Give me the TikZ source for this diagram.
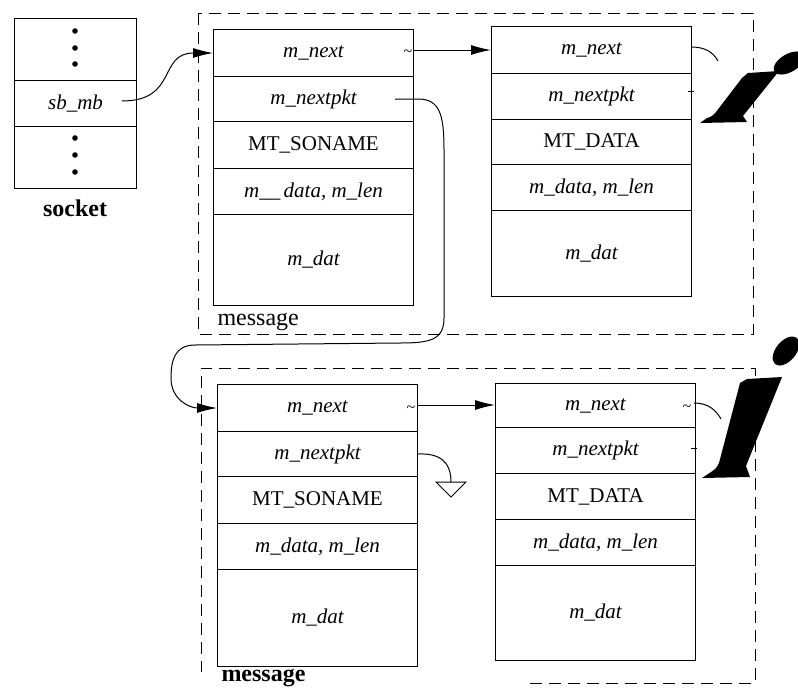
\documentclass[tikz,border=0pt]{standalone}
\usepackage{fontspec}
\setmainfont{Liberation Serif}
\usetikzlibrary{arrows.meta,calc}
\begin{document}
\begin{tikzpicture}[x=1pt,y=-1pt,
  line width=1pt,
  row/.style={draw, line width=1pt, anchor=north west, minimum width=200pt, inner sep=0pt, font=\fontsize{21}{23}\selectfont},
  srow/.style={draw, line width=1pt, anchor=north west, minimum width=122pt, inner sep=0pt, font=\fontsize{21}{23}\selectfont},
  it/.style={font=\fontsize{21}{23}\selectfont\itshape},
  dashbox/.style={dash pattern=on 12pt off 7pt, line width=1pt},
  link/.style={line width=1pt, -{Latex[length=20pt,width=10pt]}},
  wire/.style={line width=1pt},
  lbl/.style={inner sep=0pt, font=\fontsize{24}{26}\selectfont},
  blbl/.style={inner sep=0pt, font=\fontsize{24}{26}\selectfont\bfseries},
  tld/.style={inner sep=0pt, font=\fontsize{16}{16}\selectfont}
]
\useasboundingbox (0,0) rectangle (798,689);

% dashed message boxes
\draw[dashbox] (198,13) rectangle (753,334);
\draw[dashbox] (530,683) -- (755,683) -- (755,368) -- (201,368) -- (201,672);

% large slanted marks at right (top)
\fill (742,78) -- (748,73) -- (779,71) -- (743,116) -- (747,122) -- (700,123) -- (707,118)
  .. controls (712,117) and (714,114) .. (716,112) -- cycle;
\fill[rotate around={30:(789,63)}] (789,63) ellipse (17 and 9);
% large slanted marks at right (bottom)
\fill (740,383) -- (747,379) -- (782,377) -- (746,466) -- (750,477) -- (702,478) -- (711,472)
  .. controls (715,470) and (717,467) .. (719,463) -- cycle;
\fill[rotate around={50:(786,351)}] (786,351) ellipse (17 and 10);

% socket
\node[srow, minimum height=62pt] (S1) at (14,18) {};
\node[srow, minimum height=46pt, font=\fontsize{21}{23}\selectfont\itshape] (S2) at (14,80) {sb\_mb};
\node[srow, minimum height=62pt] (S3) at (14,126) {};
\foreach \yy in {31,48,64,138,155,172} \fill (75,\yy) circle (2.8pt);
\node[blbl] (sock) at (75,208) {socket};

% top-left message
\node[row, minimum height=47pt, it] (A1) at (213,29) {m\_next};
\node[row, minimum height=45pt, it] (A2) at (213,76) {m\_nextpkt};
\node[row, minimum height=47pt] (A3) at (213,121) {MT\_SONAME};
\node[row, minimum height=46pt, it] (A4) at (213,168) {m\_\_\,data, m\_len};
\node[row, minimum height=91pt, it] (A5) at (213,214) {m\_dat};

% top-right message
\node[row, minimum height=47pt, it] (B1) at (491,26) {m\_next};
\node[row, minimum height=46pt, it] (B2) at (491,73) {m\_nextpkt};
\node[row, minimum height=45pt] (B3) at (491,119) {MT\_DATA};
\node[row, minimum height=46pt, it] (B4) at (491,164) {m\_data, m\_len};
\node[row, minimum height=86pt, it] (B5) at (491,210) {m\_dat};

% bottom-left message
\node[row, minimum height=47pt, it] (C1) at (217,384) {m\_next};
\node[row, minimum height=45pt, it] (C2) at (217,431) {m\_nextpkt};
\node[row, minimum height=47pt] (C3) at (217,476) {MT\_SONAME};
\node[row, minimum height=46pt, it] (C4) at (217,523) {m\_data, m\_len};
\node[row, minimum height=97pt, it] (C5) at (217,569) {m\_dat};

% bottom-right message
\node[row, minimum height=44pt, it] (D1) at (495,383) {m\_next};
\node[row, minimum height=46pt, it] (D2) at (495,427) {m\_nextpkt};
\node[row, minimum height=46pt] (D3) at (495,473) {MT\_DATA};
\node[row, minimum height=46pt, it] (D4) at (495,519) {m\_data, m\_len};
\node[row, minimum height=95pt, it] (D5) at (495,565) {m\_dat};

% labels
\node[lbl, anchor=west] (msg1) at (217,322) {message};
\node[blbl, anchor=west] (msg2) at (221,678) {message};

% tildes
\node[tld] (t1) at (408,53) {\char"007E};
\node[tld] (t2) at (411,409) {\char"007E};
\node[tld] (t3) at (687,408) {\char"007E};

% connectors
\coordinate (sbout) at (122,101);
\draw[link] (sbout) .. controls (178,101) and (158,53) .. (A1.west);
\coordinate (a1o) at (413,50);
\coordinate (c1o) at (417,405);
\draw[link] (a1o) -- (a1o -| B1.west);
\draw[link] (c1o) -- (c1o -| D1.west);

\coordinate (pktout) at (395,99);
\draw[link] (pktout) -- (418,99) .. controls (440,99) and (444,115) .. (444,150)
  -- (444,318) .. controls (444,340) and (430,343) .. (400,343)
  -- (195,345) .. controls (175,345) and (171,360) .. (171,378)
  .. controls (171,400) and (190,408) .. (C1.west);

% null pointer in bottom-left m_nextpkt
\coordinate (gtop) at (451,482);
\draw[wire] (C2.east) .. controls (440,453) and (451,462) .. (gtop);
\draw[wire] (436,482) -- (466,482) -- (451,497) -- cycle;

% broken pointers on right
\draw[wire] (691,47) .. controls (705,47) and (713,52) .. (718,61);
\draw[wire] (694,403) .. controls (708,403) and (716,410) .. (721,419);
\draw[wire] (688,91) -- (694,91);
\draw[wire] (691,448) -- (697,448);
\end{tikzpicture}
\end{document}
